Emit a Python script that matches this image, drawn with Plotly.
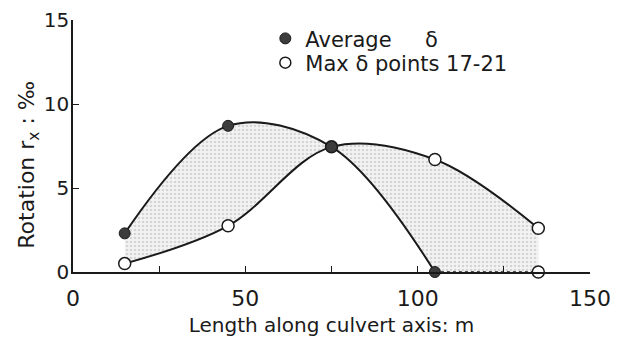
import plotly.graph_objects as go

# ---- data ----
avg_x = [15, 45, 75, 105]
avg_y = [2.3, 8.7, 7.45, 0.0]
max_x = [15, 45, 75, 105, 135]
max_y = [0.5, 2.75, 7.45, 6.7, 2.6]
tail_x = [105, 135]
tail_y = [0.0, 0.0]

x_ticks = [0, 50, 100, 150]
y_ticks = [0, 5, 10, 15]

FONT = "DejaVu Sans"
INK = "#1a1a1a"
PATTERN = dict(shape=".", fgcolor="#b8b8b8", bgcolor="#f3f3f3", size=4, solidity=0.35)

fig = go.Figure()

# shaded band between the two curves (fill only)
fig.add_trace(go.Scatter(x=max_x, y=max_y, mode="lines", line=dict(width=0, shape="spline"),
                         hoverinfo="skip", showlegend=False))
fig.add_trace(go.Scatter(x=avg_x, y=avg_y, mode="lines", line=dict(width=0, shape="spline"),
                         fill="tonexty", fillcolor="#ececec", fillpattern=PATTERN,
                         hoverinfo="skip", showlegend=False))
fig.add_trace(go.Scatter(x=[avg_x[-1], tail_x[-1], max_x[-1]], y=[avg_y[-1], tail_y[-1], max_y[-1]],
                         mode="lines", line=dict(width=0), fill="toself", fillcolor="#ececec",
                         fillpattern=PATTERN, hoverinfo="skip", showlegend=False))

# dotted tail along the axis
fig.add_trace(go.Scatter(x=tail_x, y=tail_y, mode="lines", line=dict(color=INK, width=1.5, dash="dot"),
                         showlegend=False, cliponaxis=False))

# curves with markers
fig.add_trace(go.Scatter(x=max_x, y=max_y, mode="lines+markers",
                         line=dict(color=INK, width=2, shape="spline"),
                         marker=dict(symbol="circle", size=12, color="white", line=dict(color=INK, width=1.5)),
                         showlegend=False, cliponaxis=False))
fig.add_trace(go.Scatter(x=avg_x, y=avg_y, mode="lines+markers",
                         line=dict(color=INK, width=2, shape="spline"),
                         marker=dict(symbol="circle", size=11, color="#3c3c3c", line=dict(color=INK, width=1)),
                         showlegend=False, cliponaxis=False))
fig.add_trace(go.Scatter(x=tail_x[1:], y=tail_y[1:], mode="markers",
                         marker=dict(symbol="circle", size=12, color="white", line=dict(color=INK, width=1.5)),
                         showlegend=False, cliponaxis=False))

# legend entries (two legends so each line can be placed exactly)
fig.add_trace(go.Scatter(x=[None], y=[None], mode="markers", name="Average\u00a0\u00a0\u00a0\u00a0\u00a0δ",
                         legend="legend",
                         marker=dict(symbol="circle", size=11, color="#3c3c3c", line=dict(color=INK, width=1))))
fig.add_trace(go.Scatter(x=[None], y=[None], mode="markers", name="Max\u00a0δ\u00a0points\u00a017-21",
                         legend="legend2",
                         marker=dict(symbol="circle", size=11, color="white", line=dict(color=INK, width=1.5))))

leg_common = dict(xanchor="left", yanchor="middle", bgcolor="rgba(0,0,0,0)",
                  font=dict(size=21, family=FONT, color=INK), itemclick=False, borderwidth=0)

fig.update_layout(
    width=610, height=335,
    margin=dict(l=65, r=28, t=11, b=71),
    paper_bgcolor="white", plot_bgcolor="white",
    font=dict(family=FONT, color=INK, size=19),
    legend=dict(x=0.372, y=0.922, **leg_common),
    legend2=dict(x=0.372, y=0.826, **leg_common),
    xaxis=dict(range=[0, 150], tickvals=x_ticks, showgrid=False, zeroline=False, automargin=False,
               showline=True, linecolor=INK, linewidth=1.5,
               ticks="inside", ticklen=6, tickwidth=1.2, tickcolor=INK,
               minor=dict(dtick=25, ticks="inside", ticklen=6, tickwidth=1.2, tickcolor=INK),
               tickfont=dict(size=22), ticklabelstandoff=6, ticklabeloverflow="allow",
               title=dict(text="Length along culvert axis: m", font=dict(size=20), standoff=8)),
    yaxis=dict(range=[0, 15], tickvals=y_ticks, showgrid=False, zeroline=False, automargin=False,
               showline=True, linecolor=INK, linewidth=1.5,
               ticks="inside", ticklen=6, tickwidth=1.2, tickcolor=INK,
               tickfont=dict(size=20), ticklabelstandoff=-2, ticklabeloverflow="allow"),
    annotations=[dict(text="Rotation r<sub>x</sub> : ‰", textangle=-90, xref="paper", yref="paper",
                      x=-0.085, y=0.426, xanchor="center", yanchor="middle", showarrow=False,
                      font=dict(size=22, family=FONT, color=INK))],
)

fig.write_html("out.html")
